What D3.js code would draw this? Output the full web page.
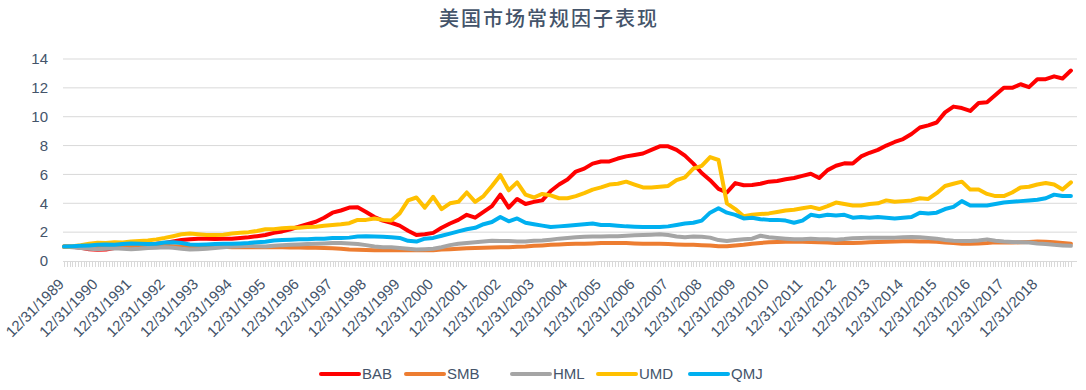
<!DOCTYPE html>
<html>
<head>
<meta charset="utf-8">
<script src="https://cdn.jsdelivr.net/npm/d3@7"></script>
<style>
  body { margin: 0; background: #fff; }
  text { font-family: 'Liberation Sans', 'Noto Sans CJK SC', sans-serif; fill: #44546A; }
</style>
</head>
<body>
<div class="canvas"></div>
<script>
// quarterly values, first point 12/31/1989
const bab = [
  1.0, 0.98, 0.92, 0.82, 0.78, 0.8, 0.9, 1.0, 1.05, 1.1,
  1.15, 1.2, 1.25, 1.35, 1.45, 1.5, 1.55, 1.55, 1.52, 1.55,
  1.55, 1.6, 1.65, 1.72, 1.8, 1.95, 2.05, 2.2, 2.38, 2.55,
  2.72, 3.0, 3.35, 3.5, 3.7, 3.72, 3.4, 3.05, 2.8, 2.65,
  2.45, 2.1, 1.8, 1.85, 1.95, 2.3, 2.6, 2.85, 3.2, 3.0,
  3.4, 3.8, 4.6, 3.7, 4.3, 3.95, 4.1, 4.2, 4.85, 5.3,
  5.65, 6.2, 6.4, 6.75, 6.9, 6.9, 7.1, 7.25, 7.35, 7.45,
  7.7, 7.95, 7.95, 7.7, 7.3, 6.75, 6.1, 5.6, 5.0, 4.75,
  5.4, 5.25, 5.27, 5.35, 5.5, 5.55, 5.66, 5.75, 5.9, 6.05,
  5.75, 6.3, 6.6, 6.77, 6.75, 7.25, 7.5, 7.7, 8.0, 8.25,
  8.45, 8.8, 9.25, 9.4, 9.6, 10.3, 10.7, 10.6, 10.4, 10.95,
  11.0, 11.5, 12.0, 12.0, 12.25, 12.05, 12.6, 12.6, 12.8, 12.65,
  13.2
];
const smb = [
  1.0, 0.98, 0.95, 0.92, 0.9, 0.92, 0.95, 0.98, 1.0, 1.02,
  1.05, 1.05, 1.05, 1.02, 1.0, 1.0, 1.0, 1.02, 1.0, 0.98,
  0.96, 0.95, 0.95, 0.95, 0.96, 0.95, 0.95, 0.94, 0.93, 0.92,
  0.92, 0.9, 0.88, 0.85, 0.8, 0.78, 0.76, 0.75, 0.74, 0.74,
  0.74, 0.75, 0.76, 0.74, 0.75, 0.8, 0.82, 0.85, 0.88, 0.9,
  0.92, 0.93, 0.95, 0.96, 0.98, 1.0, 1.05, 1.08, 1.12, 1.15,
  1.18, 1.2, 1.2, 1.22, 1.24, 1.25, 1.25, 1.24, 1.22, 1.2,
  1.2, 1.2, 1.18, 1.15, 1.12, 1.12, 1.1, 1.08, 1.02, 1.02,
  1.08, 1.12, 1.2, 1.25, 1.3, 1.32, 1.33, 1.33, 1.33, 1.32,
  1.3, 1.28, 1.25, 1.25, 1.25, 1.27, 1.3, 1.32, 1.33, 1.35,
  1.37, 1.37, 1.36, 1.35, 1.33, 1.28, 1.25, 1.2, 1.2, 1.22,
  1.25, 1.3, 1.28, 1.28, 1.3, 1.32, 1.35, 1.33, 1.3, 1.25,
  1.2
];
const hml = [
  1.0, 0.95, 0.9, 0.85, 0.82, 0.85, 0.88, 0.85, 0.82, 0.85,
  0.9, 0.92, 0.95, 0.92, 0.85, 0.8, 0.82, 0.85, 0.9, 0.95,
  1.0, 1.02, 1.05, 1.02, 1.0, 1.05, 1.1, 1.12, 1.15, 1.18,
  1.2, 1.22, 1.25, 1.25, 1.22, 1.18, 1.1, 1.0, 0.95, 0.95,
  0.9, 0.85, 0.8, 0.82, 0.85, 0.95, 1.1, 1.2, 1.25, 1.3,
  1.35, 1.4, 1.38, 1.38, 1.35, 1.35, 1.4, 1.42, 1.48, 1.55,
  1.6, 1.65, 1.68, 1.7, 1.7, 1.72, 1.72, 1.75, 1.78, 1.8,
  1.82, 1.85, 1.8, 1.7, 1.65, 1.7, 1.68, 1.62, 1.45, 1.38,
  1.45, 1.5, 1.55, 1.75, 1.65, 1.6, 1.55, 1.5, 1.5, 1.55,
  1.5, 1.5, 1.48, 1.52, 1.58, 1.6, 1.62, 1.62, 1.62, 1.62,
  1.65, 1.67, 1.65, 1.6, 1.55, 1.45, 1.4, 1.38, 1.38, 1.42,
  1.5, 1.4, 1.35, 1.32, 1.3, 1.28, 1.22, 1.18, 1.12, 1.08,
  1.05
];
const umd = [
  1.0, 1.02, 1.1, 1.2, 1.27, 1.25, 1.3, 1.28, 1.35, 1.38,
  1.42, 1.5, 1.6, 1.72, 1.85, 1.9, 1.85, 1.8, 1.8, 1.82,
  1.9, 1.95, 2.0, 2.08, 2.2, 2.2, 2.27, 2.3, 2.3, 2.35,
  2.38, 2.45, 2.5, 2.55, 2.62, 2.85, 2.85, 2.95, 2.85, 2.8,
  3.3, 4.2, 4.4, 3.7, 4.45, 3.6, 4.0, 4.1, 4.75, 4.1,
  4.5, 5.2, 5.95, 4.9, 5.45, 4.6, 4.4, 4.65, 4.55, 4.35,
  4.35, 4.5, 4.7, 4.95, 5.1, 5.3, 5.35, 5.5, 5.3, 5.1,
  5.1, 5.15, 5.2, 5.6, 5.8, 6.4, 6.6, 7.2, 7.0, 4.0,
  3.6, 3.1, 3.2, 3.25, 3.3, 3.4, 3.5, 3.55, 3.65, 3.75,
  3.6, 3.8, 4.05, 3.95, 3.85, 3.85, 3.95, 4.0, 4.2, 4.1,
  4.15, 4.2, 4.35, 4.3, 4.7, 5.2, 5.35, 5.5, 4.95, 4.95,
  4.65, 4.5, 4.5, 4.75, 5.1, 5.15, 5.3, 5.4, 5.3, 4.95,
  5.45
];
const qmj = [
  1.0, 1.02, 1.05, 1.08, 1.12, 1.15, 1.12, 1.18, 1.22, 1.2,
  1.18, 1.2, 1.28, 1.3, 1.25, 1.15, 1.12, 1.15, 1.18, 1.2,
  1.2, 1.22, 1.25, 1.3, 1.33, 1.42, 1.45, 1.48, 1.5, 1.5,
  1.55, 1.55, 1.6, 1.6, 1.62, 1.7, 1.72, 1.7, 1.68, 1.65,
  1.6, 1.4, 1.35, 1.55, 1.6, 1.75, 1.9, 2.05, 2.2, 2.3,
  2.55, 2.7, 3.05, 2.75, 2.95, 2.65, 2.55, 2.45, 2.35, 2.4,
  2.45, 2.5, 2.55, 2.6, 2.5, 2.5, 2.45, 2.4, 2.38, 2.35,
  2.35, 2.35, 2.4, 2.5, 2.6, 2.65, 2.8, 3.35, 3.65, 3.35,
  3.2, 2.95, 3.0, 2.9, 2.85, 2.85, 2.8, 2.65, 2.8, 3.2,
  3.1, 3.2, 3.15, 3.2, 3.0, 3.05, 3.0, 3.05, 3.0, 2.95,
  3.0, 3.05, 3.35, 3.3, 3.35, 3.6, 3.75, 4.15, 3.85, 3.85,
  3.85, 3.95, 4.05, 4.1, 4.15, 4.2, 4.25, 4.35, 4.6, 4.5,
  4.5
];

const seriesNames = ['BAB', 'SMB', 'HML', 'UMD', 'QMJ'];
const seriesColors = ['#FF0000', '#ED7D31', '#A5A5A5', '#FFC000', '#00B0F0'];
const seriesValues = [bab, smb, hml, umd, qmj];

const yTicks = [0, 2, 4, 6, 8, 10, 12, 14];
const yearLabels = d3.range(1989, 2019).map(y => `12/31/${y}`);

const title = '美国市场常规因子表现';


// svg container
const width = 1086;
const height = 390;
const svg = d3.select('.canvas')
  .append('svg')
  .attr('width', width)
  .attr('height', height);

// months since 12/31/1989, quarterly points
const monthsPerPoint = 3;
const lastMonth = (bab.length - 1) * monthsPerPoint;

// scales
const xScale = d3.scaleLinear()
  .domain([0, lastMonth])
  .range([64, 64 + 2.797 * lastMonth]);

const yScale = d3.scaleLinear()
  .domain([0, 14])
  .range([261, 59]);

const plotLeft = 63;
const plotRight = 1077;

// title
svg.append('text')
  .attr('x', 549)
  .attr('y', 26)
  .attr('text-anchor', 'middle')
  .style('font-family', "'Noto Sans CJK SC', sans-serif")
  .style('font-size', '20px')
  .style('letter-spacing', '2px')
  .style('font-weight', '500')
  .text(title);

// gridlines
svg.append('g')
  .selectAll('line')
  .data(yTicks.filter(d => d > 0))
  .enter()
  .append('line')
  .attr('x1', plotLeft)
  .attr('x2', plotRight)
  .attr('y1', d => yScale(d))
  .attr('y2', d => yScale(d))
  .attr('stroke', '#D9D9D9')
  .attr('stroke-width', 1);

// y axis labels
svg.append('g')
  .selectAll('text')
  .data(yTicks)
  .enter()
  .append('text')
  .attr('x', 48)
  .attr('y', d => yScale(d))
  .attr('dy', '0.35em')
  .attr('text-anchor', 'end')
  .style('font-size', '15px')
  .text(d => d);

// x axis line + monthly tick marks
const xAxisG = svg.append('g');
xAxisG.append('line')
  .attr('x1', plotLeft)
  .attr('x2', plotRight)
  .attr('y1', yScale(0) + 0.5)
  .attr('y2', yScale(0) + 0.5)
  .attr('stroke', '#D9D9D9');

xAxisG.selectAll('line.tick')
  .data(d3.range(0, lastMonth + 1))
  .enter()
  .append('line')
  .attr('class', 'tick')
  .attr('x1', d => Math.round(xScale(d)) + 0.5)
  .attr('x2', d => Math.round(xScale(d)) + 0.5)
  .attr('y1', yScale(0))
  .attr('y2', yScale(0) + 6)
  .attr('stroke', '#D9D9D9');

// rotated year labels
xAxisG.selectAll('text')
  .data(yearLabels)
  .enter()
  .append('text')
  .attr('transform', (d, i) => `translate(${xScale(i * 12) + 1}, 285) rotate(-45)`)
  .attr('text-anchor', 'end')
  .style('font-size', '15px')
  .text(d => d);

// lines
const line = d3.line()
  .x((d, i) => xScale(i * monthsPerPoint))
  .y(d => yScale(d));

svg.append('g')
  .selectAll('path')
  .data(seriesValues)
  .enter()
  .append('path')
  .attr('d', d => line(d))
  .attr('fill', 'none')
  .attr('stroke', (d, i) => seriesColors[i])
  .attr('stroke-width', 4)
  .attr('stroke-linejoin', 'round')
  .attr('stroke-linecap', 'round');

// legend
const legendX = [321, 406, 512, 598, 690];
const legend = svg.append('g')
  .selectAll('g')
  .data(seriesNames)
  .enter()
  .append('g')
  .attr('transform', (d, i) => `translate(${legendX[i]}, 374)`);

legend.append('line')
  .attr('x1', 0)
  .attr('x2', 38)
  .attr('stroke', (d, i) => seriesColors[i])
  .attr('stroke-width', 4)
  .attr('stroke-linecap', 'round');

legend.append('text')
  .attr('x', 41)
  .attr('dy', '0.35em')
  .style('font-size', '15px')
  .text(d => d);
</script>
</body>
</html>
